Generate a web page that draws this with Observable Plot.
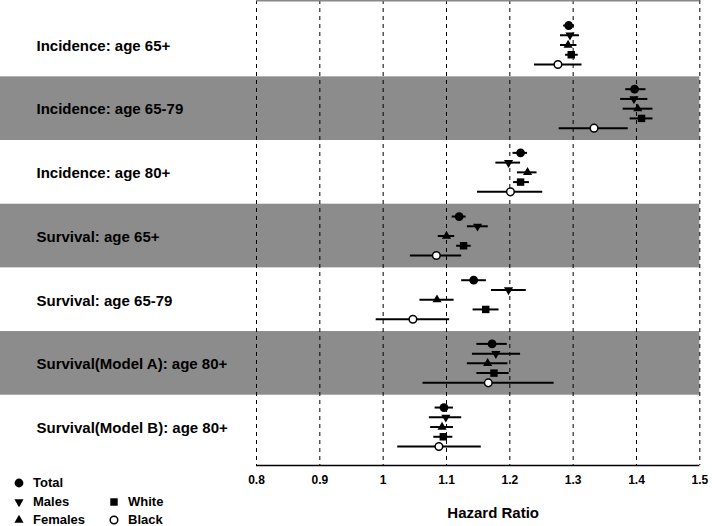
<!DOCTYPE html>
<html>
<head>
<meta charset="utf-8">
<script src="https://cdn.jsdelivr.net/npm/d3@7"></script>
<script src="https://cdn.jsdelivr.net/npm/@observablehq/plot@0.6"></script>
<style>
  html, body { margin: 0; padding: 0; background: #fff; }
  #wrap { position: relative; width: 712px; height: 526px; overflow: hidden; font-family: "Liberation Sans", Arial, Helvetica, sans-serif; }
  .leg { position: absolute; display: flex; align-items: center; font-weight: bold; font-size: 13px; line-height: 12px; height: 12px; color: #000; white-space: nowrap; }
  .leg svg { display: block; margin-right: 7px; }
</style>
</head>
<body>
<div id="wrap"></div>
<script>
// ---- data ----
const groups = [
  "Incidence: age 65+",
  "Incidence: age 65-79",
  "Incidence: age 80+",
  "Survival: age 65+",
  "Survival: age 65-79",
  "Survival(Model A): age 80+",
  "Survival(Model B): age 80+"
];
const subgroups = ["Total", "Males", "Females", "White", "Black"];

const totalHR = [1.293, 1.397, 1.217, 1.120, 1.143, 1.172, 1.096];
const totalLo = [1.285, 1.383, 1.205, 1.109, 1.124, 1.148, 1.082];
const totalHi = [1.302, 1.415, 1.228, 1.131, 1.163, 1.196, 1.111];

const malesHR = [1.295, 1.396, 1.198, 1.149, 1.198, 1.178, 1.099];
const malesLo = [1.280, 1.375, 1.178, 1.133, 1.171, 1.141, 1.073];
const malesHi = [1.310, 1.418, 1.217, 1.166, 1.226, 1.217, 1.124];

const femalesHR = [1.292, 1.402, 1.228, 1.100, 1.085, 1.165, 1.093];
const femalesLo = [1.280, 1.379, 1.212, 1.087, 1.058, 1.133, 1.075];
const femalesHi = [1.306, 1.426, 1.243, 1.113, 1.112, 1.197, 1.111];

const whiteHR = [1.297, 1.408, 1.217, 1.127, 1.162, 1.175, 1.095];
const whiteLo = [1.288, 1.390, 1.206, 1.116, 1.142, 1.148, 1.080];
const whiteHi = [1.308, 1.426, 1.231, 1.139, 1.183, 1.199, 1.110];

const blackHR = [1.276, 1.333, 1.201, 1.084, 1.047, 1.166, 1.088];
const blackLo = [1.239, 1.278, 1.149, 1.043, 0.989, 1.063, 1.023];
const blackHi = [1.314, 1.387, 1.252, 1.124, 1.105, 1.270, 1.155];

const xTicks = [0.8, 0.9, 1, 1.1, 1.2, 1.3, 1.4, 1.5];
const xTickLabels = ["0.8", "0.9", "1", "1.1", "1.2", "1.3", "1.4", "1.5"];
const xLabel = "Hazard Ratio";
const shadedGroups = [1, 3, 5];

// ---- build table ----
const series = {
  Total: [totalHR, totalLo, totalHi],
  Males: [malesHR, malesLo, malesHi],
  Females: [femalesHR, femalesLo, femalesHi],
  White: [whiteHR, whiteLo, whiteHi],
  Black: [blackHR, blackLo, blackHi]
};
const rowStep = 0.153;
const rows = [];
groups.forEach((g, gi) => {
  subgroups.forEach((s, k) => {
    const [hr, lo, hi] = series[s];
    rows.push({group: g, sub: s, y: gi + (k - 2) * rowStep, hr: hr[gi], lo: lo[gi], hi: hi[gi]});
  });
});
const of = s => rows.filter(d => d.sub === s);

const yDomain = [-0.699, 6.604];
const FONT = '"Liberation Sans", Arial, Helvetica, sans-serif';

const styles = {
  Total:   {symbol: "circle",   fill: "black", stroke: "none", r: 4.4, rotate: 0},
  Males:   {symbol: "triangle", fill: "black", stroke: "none", r: 3.4, rotate: 180},
  Females: {symbol: "triangle", fill: "black", stroke: "none", r: 3.4, rotate: 0},
  White:   {symbol: "square",   fill: "black", stroke: "none", r: 4.2, rotate: 0},
  Black:   {symbol: "circle",   fill: "white", stroke: "black", r: 3.8, rotate: 0}
};

const chart = Plot.plot({
  width: 712,
  height: 526,
  marginLeft: 256,
  marginRight: 12.7,
  marginTop: 0,
  marginBottom: 61,
  style: {fontFamily: FONT, fontSize: "12px", fontWeight: "bold", background: "white", color: "black", overflow: "visible"},
  x: {domain: [xTicks[0], xTicks[xTicks.length - 1]], ticks: xTicks,
      tickFormat: d => xTickLabels[xTicks.indexOf(d)], tickSize: 0, tickPadding: 10, label: null},
  y: {domain: yDomain, reverse: true, axis: null},
  marks: [
    Plot.rect(shadedGroups, {
      x1: () => xTicks[0], x2: () => xTicks[xTicks.length - 1],
      y1: g => g - 0.5, y2: g => g + 0.5,
      fill: "#8c8c8c", insetLeft: -256
    }),
    Plot.ruleX(xTicks, {stroke: "black", strokeWidth: 1, strokeDasharray: "4,4"}),
    Plot.ruleY([yDomain[1]], {x1: xTicks[0], x2: xTicks[xTicks.length - 1], stroke: "black", strokeWidth: 1.3}),
    Plot.ruleY([yDomain[0]], {x1: xTicks[0], x2: xTicks[xTicks.length - 1], stroke: "#888", strokeWidth: 2}),
    Plot.ruleY(rows, {y: "y", x1: "lo", x2: "hi", stroke: "black", strokeWidth: 2}),
    ...subgroups.map(s => Plot.dot(of(s), {
      x: "hr", y: "y",
      symbol: styles[s].symbol, fill: styles[s].fill, stroke: styles[s].stroke,
      strokeWidth: 1.5, r: styles[s].r, rotate: styles[s].rotate
    })),
    Plot.text(groups, {
      text: d => d, y: (d, i) => i, frameAnchor: "left", textAnchor: "start",
      dx: -220, dy: 1, fontSize: 15, fontWeight: "bold", fill: "black"
    }),
    Plot.text([xLabel], {
      text: d => d, frameAnchor: "bottom", dx: 15, dy: 52,
      fontSize: 15, fontWeight: "bold", fill: "black"
    })
  ]
});

const wrap = document.getElementById("wrap");
wrap.appendChild(chart);

// ---- legend ----
const legendItems = [
  {name: "Total", col: 0, row: 0},
  {name: "Males", col: 0, row: 1},
  {name: "Females", col: 0, row: 2},
  {name: "White", col: 1, row: 1},
  {name: "Black", col: 1, row: 2}
];
const symMap = {circle: d3.symbolCircle, triangle: d3.symbolTriangle, square: d3.symbolSquare};
legendItems.forEach(it => {
  const st = styles[it.name];
  const div = document.createElement("div");
  div.className = "leg";
  div.style.left = (12 + it.col * 95) + "px";
  div.style.top = (477 + it.row * 18.5) + "px";
  const path = d3.symbol().type(symMap[st.symbol]).size(Math.PI * st.r * st.r)();
  div.innerHTML = `<svg width="14" height="12" viewBox="-7 -6 14 12"><path d="${path}" transform="rotate(${st.rotate})" fill="${st.fill}" stroke="${st.stroke}" stroke-width="1.5"/></svg><span>${it.name}</span>`;
  wrap.appendChild(div);
});
</script>
</body>
</html>
